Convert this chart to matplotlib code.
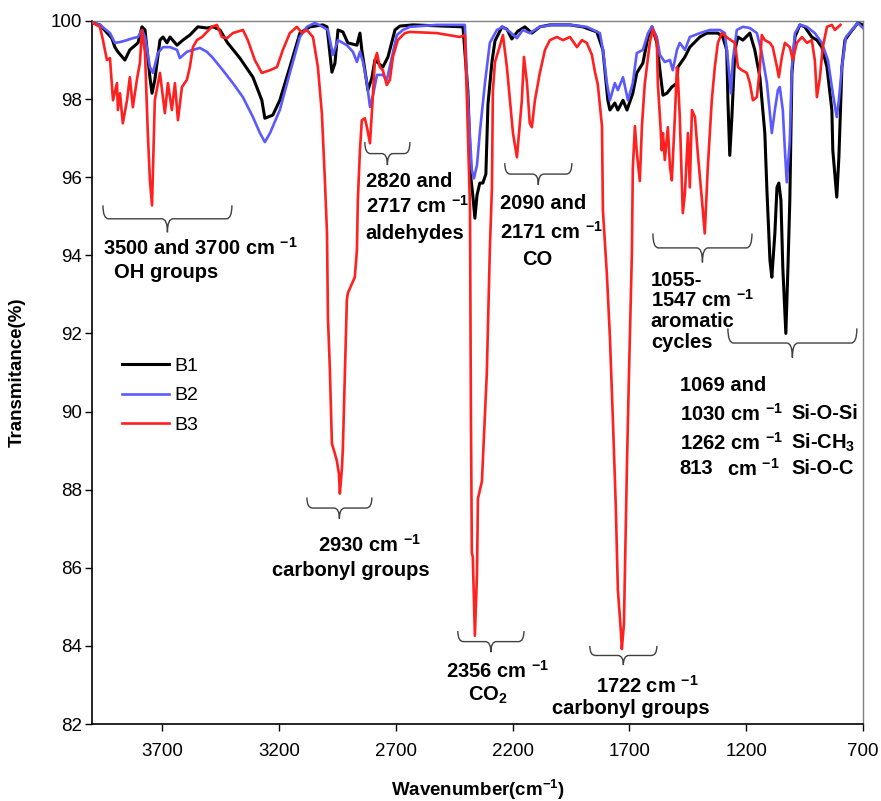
import numpy as np
import matplotlib
matplotlib.use("Agg")
import matplotlib.pyplot as plt
from matplotlib.path import Path
from matplotlib.patches import PathPatch

plt.rcParams["font.family"] = ["Liberation Sans", "DejaVu Sans"]
plt.rcParams["mathtext.fontset"] = "custom"
plt.rcParams["mathtext.rm"] = "Liberation Sans"
plt.rcParams["mathtext.bf"] = "Liberation Sans:bold"
plt.rcParams["mathtext.it"] = "Liberation Sans:italic"

# ---- data (wavenumber cm-1, transmittance %) ----
b1_wn = [3996, 3966, 3915, 3902, 3889, 3859, 3838, 3803, 3786, 3773,
         3752, 3743, 3731, 3709, 3696, 3679, 3666, 3636, 3611, 3581,
         3547, 3508, 3482, 3452, 3422, 3367, 3311, 3273, 3260, 3247,
         3226, 3196, 3153, 3110, 3067, 3012, 2994, 2973, 2960, 2947,
         2926, 2905, 2866, 2853, 2845, 2819, 2802, 2789, 2755, 2733,
         2703, 2682, 2626, 2412, 2391, 2378, 2370, 2361, 2352, 2340,
         2327, 2314, 2305, 2288, 2275, 2245, 2224, 2203, 2177, 2147,
         2117, 2083, 2040, 1954, 1899, 1839, 1813, 1792, 1783, 1762,
         1749, 1727, 1710, 1685, 1668, 1642, 1620, 1603, 1582, 1569,
         1556, 1539, 1518, 1496, 1492, 1462, 1441, 1398, 1368, 1321,
         1300, 1283, 1278, 1270, 1261, 1248, 1235, 1214, 1184, 1163,
         1141, 1120, 1111, 1098, 1090, 1077, 1068, 1060, 1051, 1043,
         1030, 1021, 1013, 1004, 991, 970, 949, 919, 897, 876,
         854, 833, 829, 812, 803, 790, 777, 756, 722, 700]
b1_t = [99.95, 99.9, 99.56, 99.33, 99.21, 99.0, 99.26, 99.44, 99.85, 99.77,
        98.56, 98.15, 98.49, 99.51, 99.59, 99.44, 99.59, 99.38, 99.51, 99.64,
        99.85, 99.82, 99.85, 99.77, 99.46, 99.05, 98.56, 97.97, 97.51, 97.54,
        97.59, 97.97, 98.82, 99.69, 99.85, 99.9, 99.85, 98.69, 98.92, 99.77,
        99.72, 99.44, 99.38, 99.69, 99.26, 98.23, 98.54, 99.0, 98.82, 99.08,
        99.77, 99.87, 99.9, 99.85, 98.2, 95.97, 95.54, 94.95, 95.54, 95.85,
        95.85, 96.08, 97.87, 98.95, 99.49, 99.85, 99.79, 99.54, 99.74, 99.85,
        99.69, 99.85, 99.9, 99.9, 99.85, 99.72, 99.26, 97.97, 97.72, 97.9,
        97.72, 97.97, 97.72, 98.15, 98.67, 98.92, 99.59, 99.85, 99.44, 98.74,
        98.1, 98.15, 98.31, 98.41, 98.82, 99.08, 99.33, 99.59, 99.69, 99.69,
        99.59, 99.26, 97.97, 96.56, 97.54, 99.26, 99.59, 99.51, 99.69, 99.26,
        98.56, 97.13, 95.67, 93.87, 93.44, 94.56, 95.74, 95.85, 95.41, 93.69,
        92.0, 93.69, 95.41, 98.67, 99.59, 99.9, 99.85, 99.59, 99.51, 99.33,
        98.82, 97.72, 96.69, 95.49, 96.51, 98.82, 99.51, 99.69, 99.95, 99.9]

b2_wn = [3996, 3966, 3923, 3902, 3880, 3850, 3825, 3803, 3786, 3773,
         3752, 3739, 3718, 3696, 3666, 3636, 3624, 3594, 3568, 3538,
         3508, 3482, 3440, 3397, 3354, 3311, 3281, 3260, 3238, 3196,
         3153, 3110, 3080, 3046, 3012, 2990, 2969, 2947, 2909, 2883,
         2866, 2853, 2840, 2823, 2810, 2797, 2780, 2755, 2738, 2716,
         2695, 2669, 2639, 2524, 2404, 2391, 2374, 2365, 2352, 2340,
         2318, 2297, 2267, 2241, 2211, 2181, 2156, 2126, 2083, 2031,
         1954, 1882, 1826, 1813, 1796, 1783, 1762, 1749, 1727, 1706,
         1685, 1668, 1642, 1620, 1603, 1582, 1569, 1548, 1526, 1514,
         1496, 1484, 1462, 1441, 1398, 1355, 1312, 1291, 1278, 1265,
         1257, 1240, 1214, 1184, 1154, 1133, 1111, 1090, 1077, 1064,
         1056, 1043, 1034, 1026, 1013, 1004, 991, 970, 940, 906,
         876, 850, 829, 812, 803, 790, 773, 747, 722, 700]
b2_t = [99.95, 99.9, 99.69, 99.44, 99.46, 99.51, 99.56, 99.59, 99.77, 99.59,
        98.82, 98.67, 99.18, 99.33, 99.33, 99.26, 99.05, 99.21, 99.26, 99.31,
        99.21, 99.05, 98.74, 98.41, 98.05, 97.54, 97.13, 96.9, 97.13, 97.72,
        98.67, 99.59, 99.85, 99.95, 99.85, 99.77, 99.13, 99.51, 99.38, 99.21,
        98.95, 99.21, 98.95, 98.41, 97.8, 98.1, 98.62, 98.62, 98.49, 99.08,
        99.64, 99.77, 99.85, 99.9, 99.9, 97.97, 96.18, 95.97, 96.31, 97.13,
        98.41, 99.44, 99.77, 99.85, 99.72, 99.56, 99.77, 99.69, 99.85, 99.9,
        99.9, 99.85, 99.69, 99.26, 98.41, 97.97, 98.41, 98.23, 98.56, 97.97,
        98.41, 99.18, 99.26, 99.69, 99.85, 99.59, 99.13, 98.95, 99.0, 98.74,
        99.26, 99.44, 99.26, 99.59, 99.69, 99.77, 99.77, 99.69, 99.0, 98.15,
        99.0, 99.77, 99.85, 99.82, 99.69, 99.18, 98.41, 97.13, 97.72, 98.23,
        98.31, 97.72, 96.69, 95.87, 96.95, 98.82, 99.69, 99.9, 99.85, 99.69,
        99.44, 99.0, 98.15, 97.54, 97.97, 98.82, 99.59, 99.77, 99.95, 99.82]

b3_wn = [3996, 3966, 3953, 3936, 3923, 3910, 3893, 3889, 3880, 3868,
         3850, 3838, 3825, 3808, 3795, 3786, 3773, 3761, 3752, 3743,
         3731, 3709, 3688, 3675, 3658, 3645, 3632, 3615, 3594, 3581,
         3568, 3551, 3529, 3508, 3487, 3465, 3444, 3422, 3397, 3354,
         3333, 3303, 3273, 3238, 3208, 3183, 3153, 3123, 3101, 3080,
         3054, 3033, 3016, 3003, 2994, 2990, 2982, 2973, 2960, 2952,
         2943, 2939, 2930, 2926, 2917, 2909, 2905, 2887, 2875, 2866,
         2862, 2853, 2845, 2832, 2823, 2810, 2797, 2789, 2780, 2768,
         2755, 2738, 2725, 2712, 2691, 2661, 2639, 2524, 2425, 2404,
         2395, 2382, 2378, 2374, 2370, 2361, 2352, 2348, 2331, 2318,
         2310, 2297, 2288, 2284, 2275, 2254, 2241, 2224, 2211, 2198,
         2181, 2160, 2151, 2138, 2126, 2117, 2104, 2083, 2061, 2040,
         2010, 1984, 1954, 1924, 1903, 1882, 1860, 1847, 1835, 1817,
         1813, 1796, 1783, 1770, 1758, 1749, 1736, 1732, 1723, 1715,
         1710, 1702, 1689, 1685, 1676, 1668, 1655, 1646, 1634, 1612,
         1599, 1582, 1578, 1569, 1561, 1556, 1548, 1535, 1526, 1518,
         1505, 1496, 1492, 1484, 1471, 1462, 1449, 1441, 1432, 1419,
         1407, 1389, 1377, 1364, 1347, 1334, 1321, 1304, 1278, 1248,
         1235, 1218, 1197, 1184, 1171, 1154, 1141, 1133, 1120, 1098,
         1086, 1068, 1060, 1047, 1034, 1013, 1000, 983, 961, 940,
         919, 906, 897, 884, 872, 854, 833, 820, 796]
b3_t = [99.95, 99.85, 99.51, 99.0, 99.05, 97.97, 98.41, 97.72, 98.15, 97.38,
        97.97, 98.56, 97.79, 98.49, 98.92, 99.77, 99.18, 97.13, 95.92, 95.28,
        97.97, 98.67, 97.64, 98.41, 97.72, 98.41, 97.46, 98.31, 98.49, 98.82,
        99.33, 99.51, 99.59, 99.72, 99.85, 99.9, 99.59, 99.56, 99.69, 99.77,
        99.51, 99.0, 98.67, 98.74, 98.82, 99.26, 99.69, 99.85, 99.69, 99.77,
        99.59, 98.82, 97.64, 95.92, 94.56, 92.41, 91.13, 89.18, 88.92, 88.74,
        88.41, 87.9, 88.56, 89.08, 91.13, 92.85, 93.03, 93.28, 93.44, 94.13,
        95.41, 96.69, 97.46, 97.51, 97.28, 96.87, 98.15, 99.0, 99.18, 98.82,
        98.74, 98.36, 98.49, 99.08, 99.51, 99.69, 99.72, 99.69, 99.59, 99.64,
        97.97, 95.23, 89.9, 86.38, 86.28, 84.26, 85.85, 87.77, 88.21, 89.9,
        90.97, 94.15, 95.74, 98.2, 98.95, 99.36, 99.64, 98.82, 97.97, 97.13,
        96.51, 97.97, 99.08, 98.41, 97.38, 97.28, 97.97, 98.67, 99.26, 99.51,
        99.59, 99.51, 99.59, 99.33, 99.51, 99.44, 99.13, 98.69, 98.38, 97.31,
        95.15, 93.51, 91.9, 89.74, 87.59, 85.44, 84.36, 83.92, 84.56, 87.05,
        88.67, 90.82, 94.05, 96.23, 97.31, 96.64, 95.9, 97.31, 98.38, 99.46,
        99.79, 99.46, 98.41, 97.54, 96.69, 97.13, 96.44, 97.28, 96.26, 95.92,
        97.54, 98.82, 98.56, 97.54, 95.08, 95.59, 97.13, 95.74, 97.72, 97.54,
        96.62, 95.41, 94.56, 96.26, 97.97, 98.82, 99.44, 99.69, 99.56, 99.44,
        98.82, 98.74, 98.67, 98.41, 97.97, 98.05, 98.82, 99.64, 99.51, 99.44,
        99.33, 98.82, 98.56, 99.08, 99.44, 99.33, 99.0, 99.44, 99.59, 99.44,
        99.51, 99.0, 98.05, 98.56, 99.33, 99.85, 99.9, 99.77, 99.9]

series_names = ["B1", "B2", "B3"]
x_ticks = [3700, 3200, 2700, 2200, 1700, 1200, 700]
y_ticks = [82, 84, 86, 88, 90, 92, 94, 96, 98, 100]

# braces: (x_left, x_right, y_top, y_tip)
braces = [
    (3953, 3401, 95.28, 94.59),
    (2832, 2639, 96.90, 96.31),
    (2233, 1946, 96.36, 95.80),
    (3080, 2802, 87.80, 87.26),
    (2434, 2151, 84.38, 83.84),
    (1869, 1582, 84.00, 83.51),
    (1599, 1175, 94.56, 93.82),
    (1278, 726, 92.13, 91.38),
]

CM = r"cm $^{\mathbf{-1}}$"
# annotations: (x, y, text, ha)
labels = [
    (3953, 94.18, "3500 and 3700 " + CM, "left"),
    (3683, 93.56, "OH groups", "center"),
    (2828, 95.90, "2820 and", "left"),
    (2828, 95.26, "2717 " + CM, "left"),
    (2828, 94.56, "aldehydes", "left"),
    (2254, 95.33, "2090 and", "left"),
    (2254, 94.59, "2171 " + CM, "left"),
    (2096, 93.90, "CO", "center"),
    (3033, 86.59, "2930 " + CM, "left"),
    (3230, 85.92, "carbonyl groups", "left"),
    (2485, 83.36, "2356 " + CM, "left"),
    (2391, 82.74, r"CO$_{\mathbf{2}}$", "left"),
    (1843, 82.97, "1722 " + CM, "left"),
    (2031, 82.41, "carbonyl groups", "left"),
    (1608, 93.36, "1055-", "left"),
    (1608, 92.85, "1547 " + CM, "left"),
    (1608, 92.31, "aromatic", "left"),
    (1608, 91.77, "cycles", "left"),
    (1484, 90.67, "1069 and", "left"),
    (1484, 89.95, "1030 " + CM, "left"),
    (1008, 89.95, "Si-O-Si", "left"),
    (1484, 89.21, "1262 " + CM, "left"),
    (1008, 89.21, r"Si-CH$_{\mathbf{3}}$", "left"),
    (1484, 88.54, "813", "left"),
    (1282, 88.54, CM, "left"),
    (1008, 88.54, "Si-O-C", "left"),
]


def brace(ax, x0, x1, y_top, y_tip, color="#404040", lw=1.0):
    xm = (x0 + x1) / 2
    ym = (y_top + y_tip) / 2
    d = np.sign(x1 - x0) * 24
    verts = [(x0, y_top), (x0, ym), (x0 + d, ym),
             (xm - d, ym), (xm, ym), (xm, y_tip),
             (xm, ym), (xm + d, ym),
             (x1 - d, ym), (x1, ym), (x1, y_top)]
    codes = [Path.MOVETO, Path.CURVE3, Path.CURVE3,
             Path.LINETO, Path.CURVE3, Path.CURVE3,
             Path.CURVE3, Path.CURVE3,
             Path.LINETO, Path.CURVE3, Path.CURVE3]
    ax.add_patch(PathPatch(Path(verts, codes), fill=False, ec=color, lw=lw))


fig = plt.figure(figsize=(8.81, 8.01), dpi=100)
ax = fig.add_axes([0.1044, 0.0961, 0.8751, 0.8777])

ax.plot(b1_wn, b1_t, color="black", lw=2.2, label=series_names[0], zorder=3)
ax.plot(b2_wn, b2_t, color="#5a5aff", lw=1.9, label=series_names[1], zorder=4)
ax.plot(b3_wn, b3_t, color="#ff2020", lw=1.9, label=series_names[2], zorder=5)

ax.set_xlim(4000, 700)
ax.set_ylim(82, 100)
ax.set_xticks(x_ticks)
ax.set_yticks(y_ticks)
ax.tick_params(axis="both", direction="out", length=5, width=1,
               labelsize=13.5, color="black")
ax.tick_params(axis="x", pad=9)
ax.tick_params(axis="y", pad=2)

for s in ["left", "bottom"]:
    ax.spines[s].set_color("black")
    ax.spines[s].set_linewidth(1.2)
for s in ["top", "right"]:
    ax.spines[s].set_color("#808080")
    ax.spines[s].set_linewidth(1.0)

for x0, x1, yt, yb in braces:
    brace(ax, x0, x1, yt, yb)

for x, y, txt, ha in labels:
    ax.text(x, y, txt, ha=ha, va="center", fontsize=14.5,
            fontweight="bold", zorder=6)

ax.legend(loc="upper left", bbox_to_anchor=(0.039, 0.522), frameon=False,
          fontsize=14, handlelength=2.4, handletextpad=0.3,
          labelspacing=0.62, borderaxespad=0, borderpad=0)

fig.text(0.543, 0.014, r"Wavenumber(cm$^{\mathbf{-1}}$)", ha="center",
         va="center", fontsize=13.5, fontweight="bold")
fig.text(0.02, 0.535, "Transmitance(%)", ha="center", va="center",
         rotation=90, fontsize=13.5, fontweight="bold")

fig.savefig("out.png", dpi=100)
